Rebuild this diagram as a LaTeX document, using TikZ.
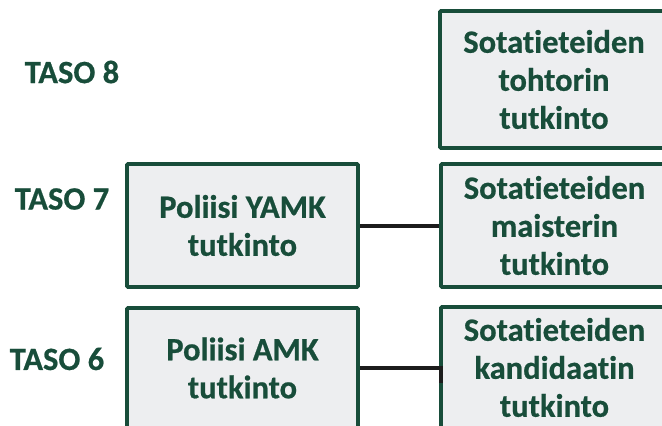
\documentclass[tikz,border=0pt]{standalone}
\usepackage{fontspec}
\setmainfont{Carlito}[Ligatures={NoCommon}, BoldFeatures={FakeBold=0.6}]
\definecolor{dgreen}{HTML}{184D3A}
\definecolor{boxfill}{HTML}{EDEEF0}
\definecolor{conn}{HTML}{1C1C1C}
\tikzset{
  lvl/.style={font=\fontsize{32.5}{38}\selectfont\bfseries, text=dgreen, inner sep=0pt},
  degbox/.style={draw=dgreen, line width=3.8pt, fill=boxfill, rounded corners=1pt,
    font=\fontsize{32.5}{38}\selectfont\bfseries, text=dgreen, align=center, inner sep=0pt},
  conline/.style={draw=conn, line width=4pt}
}
\begin{document}
\begin{tikzpicture}[x=1pt,y=-1pt]
\useasboundingbox (0,0) rectangle (662,426);
\clip (0,0) rectangle (662,426);
\node[lvl] (t8) at (72,72) {TASO 8};
\node[lvl] (t7) at (62,199) {TASO 7};
\node[lvl] (t6) at (57,359) {TASO 6};
\node[degbox, minimum width=228pt, minimum height=137pt] (toht) at (554,79.5) {Sotatieteiden\\tohtorin\\tutkinto};
\node[degbox, minimum width=227pt, minimum height=123pt] (mais) at (554.5,225.5) {Sotatieteiden\\maisterin\\tutkinto};
\node[degbox, minimum width=227pt, minimum height=121pt] (kand) at (554.5,367.5) {Sotatieteiden\\kandidaatin\\tutkinto};
\node[degbox, minimum width=231pt, minimum height=123pt] (yamk) at (242.5,225.5) {Poliisi YAMK\\tutkinto};
\node[degbox, minimum width=231pt, minimum height=120pt] (amk) at (242.5,368) {Poliisi AMK\\tutkinto};
\coordinate (kj) at (441,383);
\draw[conline] (yamk.east) -- (mais.west);
\draw[conline] (amk.east) -| (kj);
\end{tikzpicture}
\end{document}
